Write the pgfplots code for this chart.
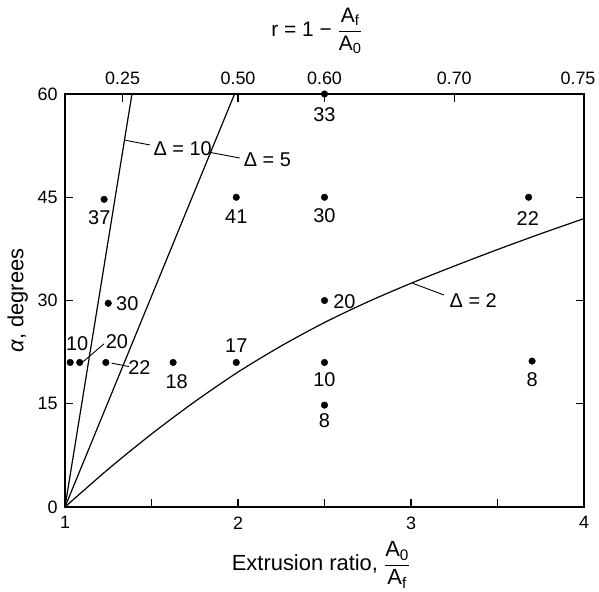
\documentclass[border=0pt]{standalone}
\usepackage{fontspec}
\setmainfont{Liberation Sans}
\usepackage{amsmath}
\usepackage{pgfplots}
\pgfplotsset{compat=1.18}
\newcommand{\tk}{\fontsize{18}{21}\selectfont}
\newcommand{\dl}{\fontsize{20}{23}\selectfont}
\newcommand{\al}{\fontsize{22}{26}\selectfont}
\newcommand{\ti}{\fontsize{21}{25}\selectfont}
\begin{document}
\begin{tikzpicture}
\path[use as bounding box] (-65bp,-85bp) rectangle (534bp,507bp);
\begin{axis}[
  scale only axis, width=519bp, height=413bp,
  xmin=1, xmax=4, ymin=0, ymax=60,
  clip=false,
  axis line style={line width=2bp},
  xtick={1,1.5,2,2.5,3,3.5,4}, xticklabels={1,,2,,3,,4},
  xtick pos=left,
  ytick={0,15,30,45,60}, ytick pos=both, yticklabel pos=left,
  tick align=inside, major tick length=8bp,
  tick style={line width=1.3bp, black},
  tick label style={font=\tk},
  /pgf/number format/assume math mode=true,
  xticklabel style={yshift=-6bp},
  yticklabel style={xshift=-4bp},
  ylabel={{\itshape α}, degrees},
  ylabel style={font=\al, at={(axis description cs:-0.091,0.5)}, anchor=center},
  xlabel={Extrusion ratio, $\dfrac{\text{A}_{\text{0}}}{\text{A}_{\text{f}}}$},
  xlabel style={font=\al, at={(axis description cs:0,0)}, xshift=256bp, yshift=-58bp, anchor=center},
]
% Delta = 2 curve
\addplot[black, line width=1.2bp, smooth] coordinates {
 (1,0) (1.25,5.5) (1.5,10.6) (1.75,15.3) (2,19.6) (2.25,23.4) (2.5,26.8)
 (2.75,29.8) (3,32.5) (3.25,35.0) (3.5,37.4) (3.75,39.7) (4,41.9)};
% Delta = 5 line
\addplot[black, line width=1.2bp] coordinates {(1,0) (1.98,60)};
% Delta = 10 line
\addplot[black, line width=1.2bp] coordinates {(1,0) (1.387,60)};
% data points
\addplot[only marks, mark=*, mark size=3.3bp, black] coordinates {
 (1.03,21) (1.085,21) (1.226,44.7) (1.25,29.6) (1.236,21) (1.625,21)
 (1.99,21) (1.99,45) (2.5,60) (2.5,45) (2.5,30) (2.5,21) (2.5,14.8)
 (3.68,45) (3.70,21.2)};
% labels
\node[font=\dl] at (axis cs:1.07,23.8) {10};
\node[font=\dl] at (axis cs:1.30,24.0) {20};
\draw[line width=0.9bp] (axis cs:1.105,21.1) -- (axis cs:1.225,23.7);
\node[font=\dl] at (axis cs:1.43,20.3) {22};
\draw[line width=0.9bp] (axis cs:1.27,20.9) -- (axis cs:1.37,20.4);
\node[font=\dl] at (axis cs:1.36,29.5) {30};
\node[font=\dl] at (axis cs:1.198,42.1) {37};
\node[font=\dl] at (axis cs:1.645,18.2) {18};
\node[font=\dl] at (axis cs:1.99,23.5) {17};
\node[font=\dl] at (axis cs:1.99,42.2) {41};
\node[font=\dl] at (axis cs:2.5,57.0) {33};
\node[font=\dl] at (axis cs:2.5,42.4) {30};
\node[font=\dl] at (axis cs:3.675,41.9) {22};
\node[font=\dl] at (axis cs:2.615,29.8) {20};
\node[font=\dl] at (axis cs:2.5,18.5) {10};
\node[font=\dl] at (axis cs:2.5,12.5) {8};
\node[font=\dl] at (axis cs:3.70,18.5) {8};
\node[font=\dl] at (axis cs:3.36,30.0) {Δ = 2};
\draw[line width=0.9bp] (axis cs:3.01,32.5) -- (axis cs:3.19,30.8);
\node[font=\dl] at (axis cs:1.68,52.0) {Δ = 10};
\draw[line width=0.9bp] (axis cs:1.345,53.3) -- (axis cs:1.49,52.6);
\node[font=\dl] at (axis cs:2.17,50.4) {Δ = 5};
\draw[line width=0.9bp] (axis cs:1.842,51.5) -- (axis cs:2.01,50.7);
% top title
\node[font=\ti] at (rel axis cs:0,1) [xshift=252bp, yshift=63bp]
  {r = 1 − $\dfrac{\text{A}_{\text{f}}}{\text{A}_{\text{0}}}$};
\end{axis}
\begin{axis}[
  scale only axis, width=519bp, height=413bp,
  xmin=1, xmax=4, ymin=0, ymax=60,
  axis line style={draw=none},
  xtick={1.3333,2,2.5,3.25},
  xticklabels={0.25,0.50,0.60,0.70},
  extra x ticks={4}, extra x tick labels={0.75},
  extra x tick style={xticklabel style={xshift=-6bp}},
  xtick pos=right, xticklabel pos=right,
  ytick=\empty,
  tick align=inside, major tick length=8bp,
  tick style={line width=1.3bp, black},
  tick label style={font=\tk},
  xticklabel style={yshift=6bp},
]
\end{axis}
\end{tikzpicture}
\end{document}
